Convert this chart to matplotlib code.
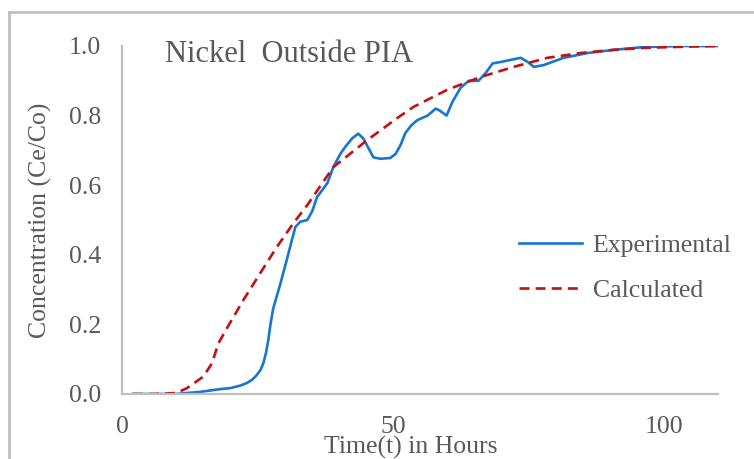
import matplotlib
matplotlib.use("Agg")
import matplotlib.pyplot as plt
from matplotlib.lines import Line2D

# breakthrough data, time in hours vs Ce/Co
exp_time = [2, 6, 10, 11.3, 14.4, 18.1, 20, 21.8, 23.1, 24.1, 24.9, 25.6, 26.1, 26.6,
            27, 27.4, 27.9, 29.2, 30.4, 31.4, 32, 32.9, 34.2, 35.1, 36, 37.9, 39,
            40.3, 41.2, 42.5, 43.6, 44.5, 45.3, 46.4, 47.7, 49.5, 50.5, 51.4, 52.3,
            53.4, 54.5, 56.4, 57.9, 58.6, 59.9, 61, 62.5, 64, 65.8, 67.1, 68.4,
            69.9, 71.7, 73.6, 74.9, 76, 77.8, 81.5, 86, 90.8, 96.3, 103.1, 110]
exp_conc = [0, 0, 0, 0.002, 0.006, 0.014, 0.017, 0.024, 0.032, 0.042, 0.055, 0.07,
            0.089, 0.12, 0.155, 0.2, 0.245, 0.315, 0.385, 0.445, 0.48, 0.495, 0.5,
            0.525, 0.566, 0.606, 0.652, 0.69, 0.71, 0.735, 0.748, 0.735, 0.712,
            0.68, 0.676, 0.678, 0.69, 0.715, 0.75, 0.772, 0.787, 0.80, 0.82, 0.815,
            0.80, 0.84, 0.88, 0.90, 0.90, 0.922, 0.95, 0.954, 0.96, 0.966, 0.954,
            0.94, 0.945, 0.966, 0.98, 0.989, 0.997, 1.0, 1.0]

calc_time = [2, 6, 10.1, 12, 15, 16.6, 17.8, 19.4, 22.4, 25.5, 28.6, 31.6, 34.2,
             39, 45.3, 50.8, 53.8, 60, 66.2, 72.3, 78.5, 84.7, 90.8, 97, 104, 110]
calc_conc = [0, 0, 0.003, 0.017, 0.05, 0.088, 0.146, 0.19, 0.27, 0.347, 0.423, 0.49,
             0.543, 0.652, 0.73, 0.793, 0.825, 0.874, 0.911, 0.94, 0.966, 0.98,
             0.989, 0.995, 0.998, 1.0]

x_ticks = [0, 50, 100]
y_ticks = [0.0, 0.2, 0.4, 0.6, 0.8, 1.0]

plt.rcParams['font.family'] = ['Liberation Serif', 'DejaVu Serif']
txt = '#595959'
edge = '#BFBFBF'

fig = plt.figure(figsize=(7.54, 4.59), dpi=100)
ax = fig.add_axes([122/754, 1 - 394/459, (718 - 122)/754, (394 - 46)/459])

ax.plot(exp_time, exp_conc, color='#1577CF', lw=1.9, label='Experimental',
        solid_joinstyle='round')
ax.plot(calc_time, calc_conc, color='#C80F0F', lw=1.9, dashes=(3.8, 2.3),
        label='Calculated')

ax.set_xlim(0, 110)
ax.set_ylim(0, 1.0)
ax.set_xticks(x_ticks)
ax.set_yticks(y_ticks)
ax.set_yticklabels([f'{v:.1f}' for v in y_ticks])
ax.tick_params(length=0, labelsize=18.5, colors=txt)
ax.tick_params(axis='y', pad=15)
ax.tick_params(axis='x', pad=16)

for s in ['top', 'right']:
    ax.spines[s].set_visible(False)
for s in ['left', 'bottom']:
    ax.spines[s].set_color(edge)
    ax.spines[s].set_linewidth(1.6)

ax.set_xlabel('Time(t) in Hours', fontsize=18.5, color=txt, labelpad=-2)
ax.xaxis.set_label_coords(0.485, -0.12)
ax.set_ylabel('Concentration (Ce/Co)', fontsize=18.5, color=txt, labelpad=12)

ax.text(0.072, 0.954, 'Nickel  Outside PIA', transform=ax.transAxes,
        fontsize=22, color=txt, va='baseline', ha='left')

leg = ax.legend(loc='center left', bbox_to_anchor=(0.628, 0.362), frameon=False,
                fontsize=18.5, handlelength=2.45, labelspacing=0.85,
                handletextpad=0.4)
for t in leg.get_texts():
    t.set_color(txt)

# outer frame (top and left edges)
fig.add_artist(Line2D([9/754, 1], [1 - 12/459, 1 - 12/459], color=edge, lw=2,
                      transform=fig.transFigure))
fig.add_artist(Line2D([9/754, 9/754], [0, 1 - 12/459], color=edge, lw=2,
                      transform=fig.transFigure))

fig.savefig('out.png', dpi=100)
